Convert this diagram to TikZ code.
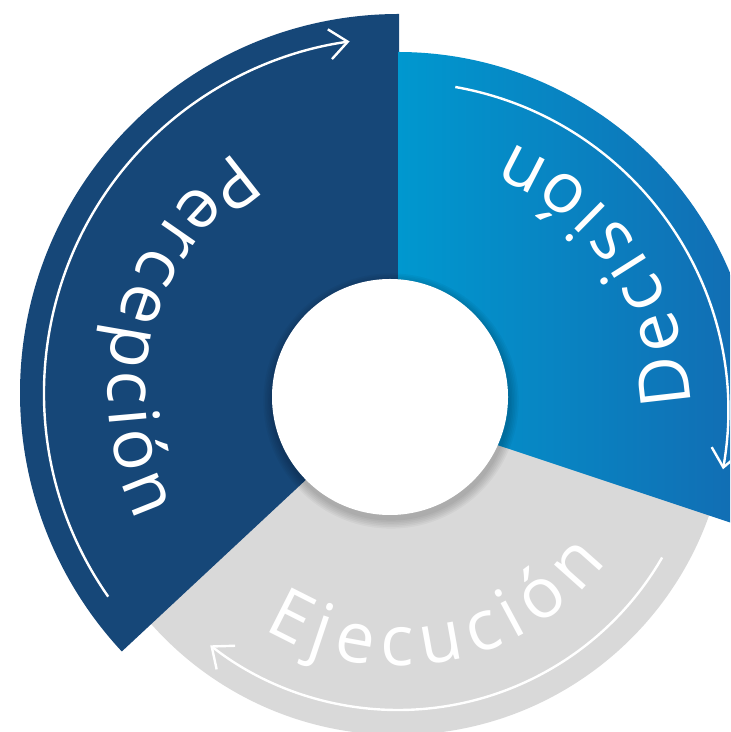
\documentclass[tikz,border=0pt]{standalone}
\usepackage{fontspec}
\setmainfont{Open Sans}
\usetikzlibrary{arrows.meta,calc,decorations.text}
\definecolor{cpnavy}{RGB}{22,71,120}
\definecolor{cpcyan}{RGB}{0,152,207}
\definecolor{cpblue}{RGB}{20,104,176}
\definecolor{cpgrey}{RGB}{217,217,217}
\newcommand{\cyclefont}{\fontsize{35}{40}\selectfont}
\tikzset{
  cyclearrow/.style={white, line width=1.2pt, -{Straight Barb[length=9pt,width=15pt]}},
  cycletext/.style={decorate, decoration={text along path, text align=fit to path, text color=white, text={|\cyclefont|#1}}},
}

\begin{document}
\begin{tikzpicture}[x=0.5pt,y=0.5pt]
  \useasboundingbox (0,0) rectangle (730,732);
  \clip (0,0) rectangle (730,732);
  \coordinate (pc) at (399,339);
  \coordinate (dc) at (398,320);
  \coordinate (ec) at (398,327);
  \coordinate (hub) at (390,335);
  \fill[cpgrey] (ec) circle[radius=330];
  \fill[cpnavy] (pc) -- ++(90:379) arc[start angle=90,end angle=223,radius=379] -- cycle;
  \shade[left color=cpcyan,right color=cpblue] (dc) -- ++(-18.4:360) arc[start angle=-18.4,end angle=90,radius=360] -- cycle;
  \foreach \s in {1,...,6}
    \fill[black,opacity=0.035] ($(hub)+(1,-4)$) circle[radius=118+\s*1.6];
  \fill[white] (hub) circle[radius=118];
  \draw[cyclearrow] (pc) ++(215:355) arc[start angle=215,end angle=98,radius=355];
  \draw[cyclearrow] (dc) ++(80:330) arc[start angle=80,end angle=-10,radius=330];
  \draw[cyclearrow] (ec) ++(-30:305) arc[start angle=-30,end angle=-128,radius=305];
  \path[cycletext=Percepción] (pc) ++(124:291) arc[start angle=124,end angle=206,radius=291];
  \path[cycletext=Decisión] (dc) ++(1.5:292) arc[start angle=1.5,end angle=67,radius=292];
  \path[cycletext=Ejecución] (ec) ++(239:261) arc[start angle=239,end angle=323,radius=261];
\end{tikzpicture}
\end{document}
